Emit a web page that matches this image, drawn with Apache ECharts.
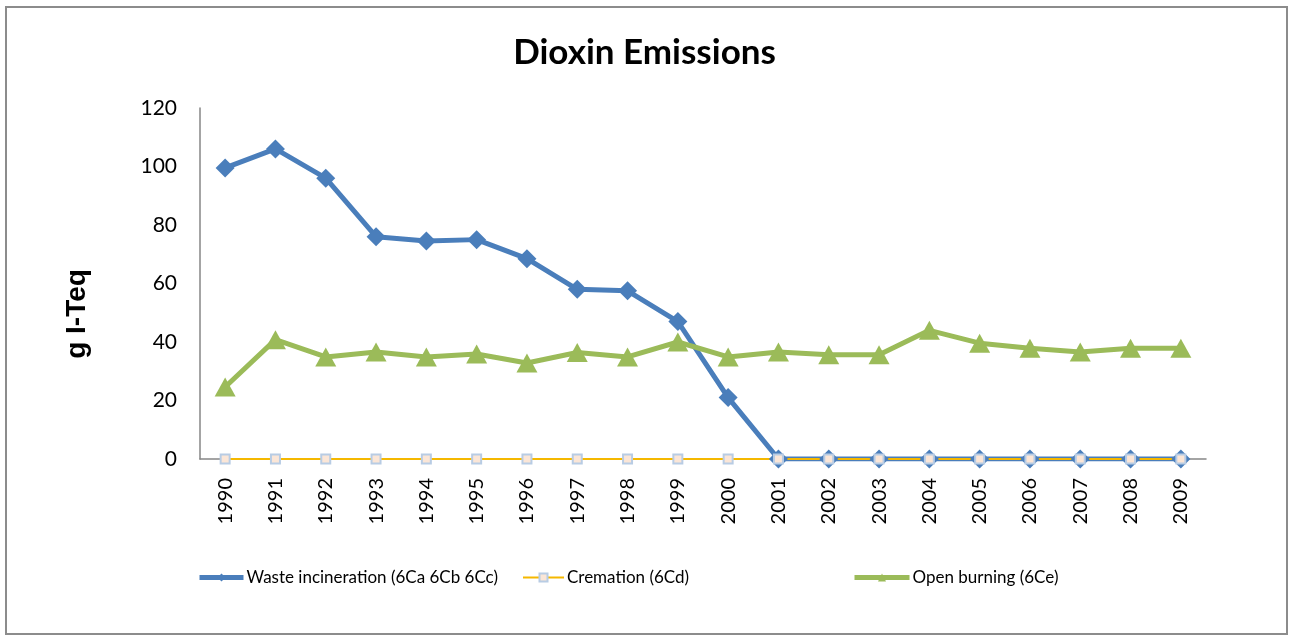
<!DOCTYPE html>
<html>
<head>
<meta charset="utf-8">
<script src="https://cdn.jsdelivr.net/npm/echarts@6/dist/echarts.min.js"></script>
<style>html,body{margin:0;padding:0;background:#fff;}#c{width:1289px;height:640px;}</style>
</head>
<body>
<div id="c"></div>
<script>
var years = ['1990','1991','1992','1993','1994','1995','1996','1997','1998','1999','2000','2001','2002','2003','2004','2005','2006','2007','2008','2009'];
var wasteIncineration = [99.5, 106, 96, 76, 74.5, 75, 68.5, 58, 57.5, 47, 21, 0, 0, 0, 0, 0, 0, 0, 0, 0];
var cremation = [0, 0, 0, 0, 0, 0, 0, 0, 0, 0, 0, 0, 0, 0, 0, 0, 0, 0, 0, 0];
var openBurning = [24.6, 40.8, 34.9, 36.6, 34.9, 35.9, 32.8, 36.4, 34.9, 40, 34.9, 36.6, 35.6, 35.6, 44, 39.6, 37.9, 36.6, 37.9, 37.9];
var yTicks = [0, 20, 40, 60, 80, 100, 120];

var names = ['Waste incineration (6Ca 6Cb 6Cc)', 'Cremation (6Cd)', 'Open burning (6Ce)'];
var font = 'Lato, "Liberation Sans", sans-serif';
var chart = echarts.init(document.getElementById('c'));
function lg(name, left, w, lw) {
  return {
    data: [name], left: left, top: 564, itemWidth: w, itemHeight: 10, itemGap: 3,
    lineStyle: {width: lw},
    textStyle: {fontFamily: font, fontSize: 17, color: '#000', padding: [0,0,0,-2]},
    selectedMode: false
  };
}
chart.setOption({
  animation: false,
  backgroundColor: '#fff',
  graphic: [{
    type: 'rect', shape: {x: 6, y: 7, width: 1281, height: 627},
    style: {fill: 'none', stroke: '#8c8c8c', lineWidth: 2}
  }, {
    type: 'text', x: 77, y: 314, rotation: Math.PI / 2,
    style: {text: 'g I-Teq', fill: '#000', align: 'center', verticalAlign: 'middle',
      font: 'bold 28px "Liberation Sans", Arial, sans-serif'}
  }],
  title: {
    text: 'Dioxin Emissions', left: 'center', top: 30,
    textStyle: {fontFamily: font, fontWeight: 'bold', fontSize: 35, color: '#000'}
  },
  legend: [lg(names[0], 192, 44, 5), lg(names[1], 517, 41, 2), lg(names[2], 847, 55, 5)],
  grid: {left: 200, right: 83, top: 108, bottom: 181, containLabel: false},
  xAxis: {
    type: 'category', data: years, boundaryGap: true,
    axisLine: {lineStyle: {color: '#868686', width: 1.5}},
    axisTick: {show: false},
    axisLabel: {rotate: 90, margin: 19, fontFamily: font, fontSize: 20, color: '#000', interval: 0}
  },
  yAxis: {
    type: 'value', min: yTicks[0], max: yTicks[yTicks.length-1], interval: 20,
    axisLine: {show: true, lineStyle: {color: '#868686', width: 1.5}},
    axisTick: {show: false},
    splitLine: {show: false},
    axisLabel: {margin: 23, fontFamily: font, fontSize: 21, color: '#000'}
  },
  series: [
    {
      name: names[0], type: 'line', data: wasteIncineration,
      symbol: 'diamond', symbolSize: 19,
      lineStyle: {color: '#4a7ebb', width: 5},
      itemStyle: {color: '#4a7ebb', borderWidth: 0}
    },
    {
      name: names[1], type: 'line', data: cremation,
      symbol: 'rect', symbolSize: 9,
      lineStyle: {color: '#f5b800', width: 2},
      itemStyle: {color: '#fbe6d7', borderColor: '#b8cce4', borderWidth: 2}
    },
    {
      name: names[2], type: 'line', data: openBurning,
      symbol: 'triangle', symbolSize: [21, 19],
      lineStyle: {color: '#9bbb59', width: 5},
      itemStyle: {color: '#9bbb59', borderWidth: 0}
    }
  ]
});
</script>
</body>
</html>
